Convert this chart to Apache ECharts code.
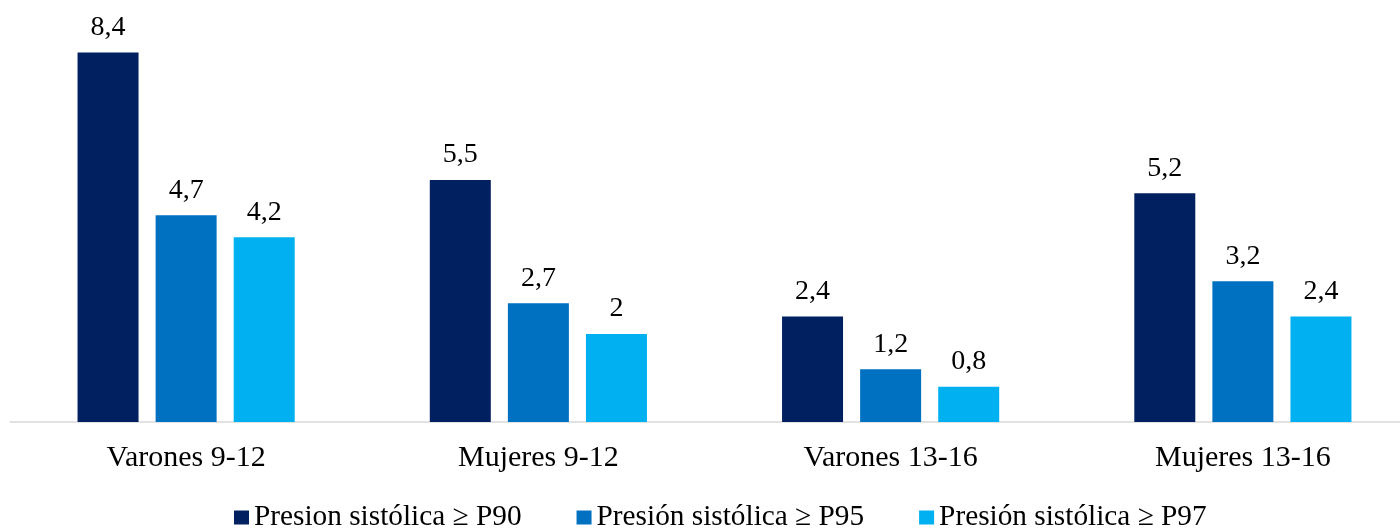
<!DOCTYPE html>
<html>
<head>
<meta charset="utf-8">
<script src="https://cdn.jsdelivr.net/npm/echarts@6/dist/echarts.min.js"></script>
<style>
  html, body { margin: 0; padding: 0; background: #fff; }
  #chart { width: 1400px; height: 529px; }
</style>
</head>
<body>
<div id="chart"></div>
<script>
const categories = ['Varones 9-12', 'Mujeres 9-12', 'Varones 13-16', 'Mujeres 13-16']
const seriesNames = ['Presion sistólica ≥ P90', 'Presión sistólica ≥ P95', 'Presión sistólica ≥ P97']
const p90 = [8.4, 5.5, 2.4, 5.2]
const p95 = [4.7, 2.7, 1.2, 3.2]
const p97 = [4.2, 2, 0.8, 2.4]
const colors = ['#002060', '#0070C0', '#00B0F0']

const font = '"Liberation Serif", "Times New Roman", serif'

function makeSeries(name, data, color) {
  return {
    name: name,
    type: 'bar',
    data: data,
    barWidth: 61,
    barGap: '28%',
    itemStyle: { color: color },
    label: {
      show: true,
      position: 'top',
      distance: 11,
      color: '#000',
      fontFamily: font,
      fontSize: 28,
      formatter: function(p) {
        return String(p.value).replace('.', ',')
      }
    }
  }
}

const chart = echarts.init(document.getElementById('chart'))
chart.setOption({
  animation: false,
  color: colors,
  grid: {
    left: 10,
    width: 1409,
    top: 26,
    bottom: 107,
    outerBoundsMode: 'none'
  },
  legend: {
    top: 503,
    left: 234,
    padding: 0,
    itemWidth: 15,
    itemHeight: 14,
    itemGap: 55,
    icon: 'rect',
    textStyle: {
      fontFamily: font,
      fontSize: 29.3,
      color: '#000'
    },
    data: seriesNames
  },
  xAxis: {
    type: 'category',
    data: categories,
    axisLine: { lineStyle: { color: '#d9d9d9', width: 1.5 } },
    axisTick: { show: false },
    axisLabel: {
      color: '#000',
      fontFamily: font,
      fontSize: 30,
      margin: 21
    }
  },
  yAxis: {
    type: 'value',
    min: 0,
    max: 9,
    show: false,
    splitLine: { show: false }
  },
  series: [
    makeSeries(seriesNames[0], p90, colors[0]),
    makeSeries(seriesNames[1], p95, colors[1]),
    makeSeries(seriesNames[2], p97, colors[2])
  ]
})
</script>
</body>
</html>
